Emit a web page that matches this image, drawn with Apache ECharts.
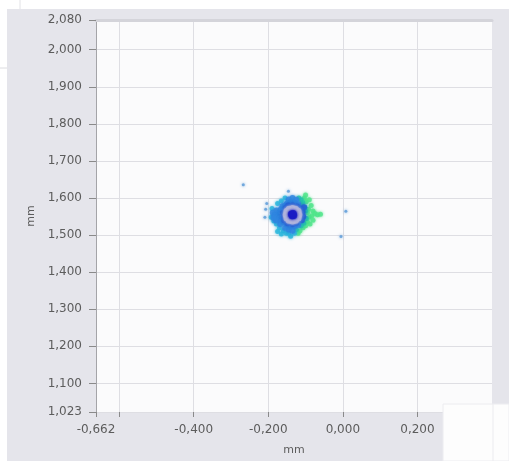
<!DOCTYPE html>
<html>
<head>
<meta charset="utf-8">
<script src="https://cdn.jsdelivr.net/npm/echarts@6/dist/echarts.min.js"></script>
<style>
  html, body { margin: 0; padding: 0; background: #ffffff; }
  #chart { width: 509px; height: 461px; }
</style>
</head>
<body>
<div id="chart"></div>
<script>
// Axis ranges (mm)
const xRange = [-0.662, 0.4];
const yRange = [1.023, 2.080];
const xName = 'mm';
const yName = 'mm';

// Beam position samples, grouped by local point density (low -> high)
const greenPts = [
  [-0.095, 1.560], [-0.090, 1.548], [-0.092, 1.570], [-0.085, 1.580], [-0.080, 1.565],
  [-0.083, 1.552], [-0.075, 1.558], [-0.068, 1.555], [-0.060, 1.556], [-0.098, 1.590],
  [-0.103, 1.600], [-0.100, 1.608], [-0.090, 1.595], [-0.095, 1.535], [-0.088, 1.530],
  [-0.100, 1.525], [-0.080, 1.540], [-0.107, 1.520], [-0.115, 1.512], [-0.120, 1.505],
  [-0.110, 1.583]
];
const tealPts = [
  [-0.100, 1.565], [-0.098, 1.545], [-0.102, 1.575], [-0.105, 1.532], [-0.112, 1.595],
  [-0.118, 1.600], [-0.108, 1.588], [-0.112, 1.525], [-0.125, 1.515]
];
const cyanPts = [
  [-0.178, 1.530], [-0.170, 1.520], [-0.160, 1.512], [-0.165, 1.503], [-0.152, 1.505],
  [-0.185, 1.538], [-0.190, 1.572], [-0.175, 1.585], [-0.165, 1.592], [-0.155, 1.600],
  [-0.140, 1.497], [-0.130, 1.505], [-0.192, 1.548], [-0.175, 1.510], [-0.145, 1.505]
];
const lightBluePts = [
  [-0.172, 1.560], [-0.175, 1.550], [-0.170, 1.541], [-0.178, 1.566], [-0.183, 1.555],
  [-0.166, 1.570], [-0.163, 1.548], [-0.160, 1.535], [-0.168, 1.530], [-0.162, 1.578],
  [-0.180, 1.540], [-0.188, 1.560], [-0.186, 1.547], [-0.150, 1.585], [-0.140, 1.590],
  [-0.130, 1.588], [-0.145, 1.596], [-0.135, 1.600], [-0.155, 1.580], [-0.120, 1.583],
  [-0.125, 1.595], [-0.150, 1.528], [-0.140, 1.522], [-0.130, 1.524], [-0.145, 1.515],
  [-0.135, 1.512], [-0.155, 1.520], [-0.120, 1.527]
];
const bluePts = [
  [-0.108, 1.562], [-0.106, 1.550], [-0.110, 1.540], [-0.112, 1.572], [-0.104, 1.575],
  [-0.160, 1.560], [-0.158, 1.550], [-0.153, 1.573], [-0.147, 1.580], [-0.135, 1.580],
  [-0.123, 1.577], [-0.113, 1.555], [-0.115, 1.545], [-0.125, 1.533], [-0.135, 1.530],
  [-0.148, 1.532], [-0.157, 1.540]
];
const ringPts = [
  [-0.118, 1.555], [-0.120, 1.564], [-0.127, 1.570], [-0.135, 1.572], [-0.144, 1.570],
  [-0.150, 1.564], [-0.152, 1.555], [-0.150, 1.546], [-0.144, 1.540], [-0.135, 1.538],
  [-0.127, 1.540], [-0.120, 1.546]
];
const corePts = [
  [-0.135, 1.555], [-0.138, 1.557], [-0.132, 1.553], [-0.136, 1.552], [-0.133, 1.558]
];
const strayPts = [
  [-0.267, 1.636], [0.008, 1.564], [-0.005, 1.496], [-0.207, 1.570], [-0.209, 1.548],
  [-0.146, 1.618], [-0.204, 1.585]
];

const groups = [
  { name: 'green', data: greenPts, color: '#4fe58a', size: 5 },
  { name: 'teal', data: tealPts, color: '#22c6a8', size: 5 },
  { name: 'cyan', data: cyanPts, color: '#29b6dc', size: 5 },
  { name: 'lightBlue', data: lightBluePts, color: '#2f86e0', size: 6 },
  { name: 'blue', data: bluePts, color: '#2460d4', size: 6 },
  { name: 'ring', data: ringPts, color: '#b4b6dc', size: 7 },
  { name: 'core', data: corePts, color: '#1a1cc4', size: 7 },
  { name: 'stray', data: strayPts, color: '#5a9ad8', size: 3 }
];

const fmt = v => {
  if (Math.abs(v + 0.6) < 1e-9) return '';
  return v.toFixed(3).replace('.', ',');
};

const labelStyle = { color: '#5c5c5c', fontFamily: 'DejaVu Sans', fontSize: 12 };

const chart = echarts.init(document.getElementById('chart'), null, { renderer: 'canvas' });
chart.setOption({
  animation: false,
  backgroundColor: '#ffffff',
  graphic: [
    { type: 'rect', z: -10, shape: { x: 7, y: 9, width: 502, height: 452 }, style: { fill: '#e5e5eb' } },
    { type: 'line', z: -10, shape: { x1: 20, y1: 0, x2: 20, y2: 9 }, style: { stroke: '#e2e2e6', lineWidth: 1 } },
    { type: 'line', z: -10, shape: { x1: 0, y1: 68, x2: 7, y2: 68 }, style: { stroke: '#dcdce0', lineWidth: 1 } },
    { type: 'rect', z: 100, shape: { x: 443, y: 404, width: 66, height: 57 }, style: { fill: '#fdfdfd', stroke: '#ececf0', lineWidth: 1 } },
    { type: 'line', z: 101, shape: { x1: 493, y1: 404, x2: 493, y2: 461 }, style: { stroke: '#ebebef', lineWidth: 1 } }
  ],
  grid: {
    left: 96, right: 17, top: 20, bottom: 48,
    show: true, backgroundColor: '#fbfbfc', borderWidth: 0
  },
  xAxis: [{
    type: 'value',
    min: xRange[0], max: xRange[1],
    splitNumber: 5,
    name: xName, nameLocation: 'middle', nameGap: 33,
    nameTextStyle: { color: '#5c5c5c', fontFamily: 'DejaVu Sans', fontSize: 11 },
    axisLine: { show: false, onZero: false },
    axisTick: { show: true, length: 5, lineStyle: { color: '#8a8a8a' } },
    axisLabel: Object.assign({ formatter: fmt, margin: 12, showMinLabel: true, showMaxLabel: false }, labelStyle),
    splitLine: { show: true, showMinLine: false, showMaxLine: false, lineStyle: { color: '#dedee3', width: 1 } }
  }, {
    type: 'value',
    position: 'top',
    min: xRange[0], max: xRange[1],
    axisLine: { show: true, onZero: false, lineStyle: { color: '#d4d4da', width: 3 } },
    axisTick: { show: false },
    axisLabel: { show: false },
    splitLine: { show: false }
  }],
  yAxis: {
    type: 'value',
    min: yRange[0], max: yRange[1],
    splitNumber: 10,
    name: yName, nameLocation: 'middle', nameGap: 57,
    nameTextStyle: { color: '#5c5c5c', fontFamily: 'DejaVu Sans', fontSize: 11 },
    axisLine: { show: true, onZero: false, lineStyle: { color: '#a4a4a8', width: 1 } },
    axisTick: { show: true, length: 7, lineStyle: { color: '#8a8a8a' } },
    axisLabel: Object.assign({ formatter: fmt, margin: 14, showMinLabel: true, showMaxLabel: true }, labelStyle),
    splitLine: { show: true, lineStyle: { color: '#dedee3', width: 1 } }
  },
  series: groups.map(g => ({
    type: 'scatter',
    name: g.name,
    silent: true,
    symbol: 'circle',
    symbolSize: g.size,
    itemStyle: { color: g.color, shadowBlur: 3, shadowColor: g.color },
    data: g.data
  }))
});
</script>
</body>
</html>
